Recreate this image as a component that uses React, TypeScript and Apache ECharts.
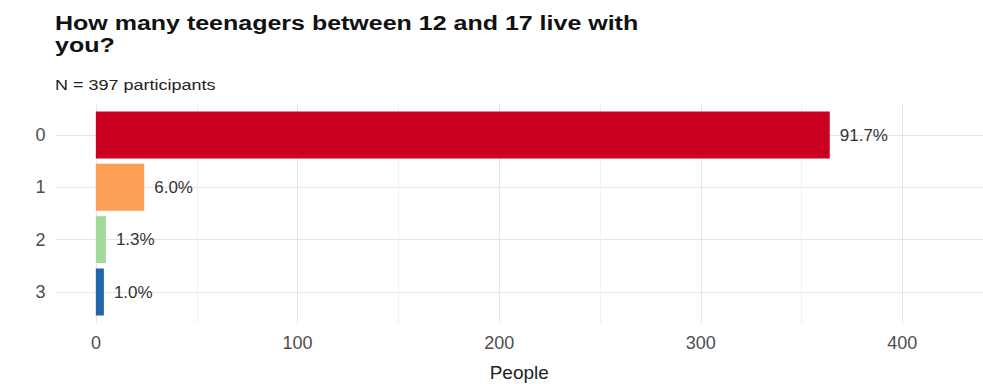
import React, { useEffect, useRef } from "react";
import * as echarts from "echarts";

const categories = ["0", "1", "2", "3"];
const counts = [364, 24, 5, 4];
const pctLabels = ["91.7%", "6.0%", "1.3%", "1.0%"];
const barColors = ["#CA0020", "#FA9F55", "#A1D99B", "#2166AC"];
const xTicks = [0, 100, 200, 300, 400];
const titleLines = ["How many teenagers between 12 and 17 live with", "you?"];
const subtitle = "N = 397 participants";

const FONT = "Liberation Sans, Arial, Helvetica, sans-serif";

export default function App() {
  const ref = useRef<HTMLDivElement>(null);
  useEffect(() => {
    if (!ref.current) return;
    const chart = echarts.init(ref.current, undefined, { renderer: "svg" });
    const option: any = {
      animation: false,
      backgroundColor: "#ffffff",
      textStyle: { fontFamily: FONT },
      graphic: [
        {
          type: "text",
          x: 55,
          y: 23,
          scaleX: 1.25,
          style: {
            text: titleLines[0],
            font: "bold 20px " + FONT,
            fill: "#111",
            verticalAlign: "middle",
          },
        },
        {
          type: "text",
          x: 55,
          y: 45,
          scaleX: 1.25,
          style: {
            text: titleLines[1],
            font: "bold 20px " + FONT,
            fill: "#111",
            verticalAlign: "middle",
          },
        },
        {
          type: "text",
          x: 55,
          y: 85.5,
          scaleX: 1.2,
          style: {
            text: subtitle,
            font: "15px " + FONT,
            fill: "#222",
            verticalAlign: "middle",
          },
        },
      ],
      grid: [
        { left: 55.5, width: 928, top: 135, height: 157 },
        { left: 96, width: 887.7, top: 103.6, height: 219.8 },
      ],
      xAxis: [
        {
          gridIndex: 0,
          type: "value",
          min: -20,
          max: 440,
          axisLine: { show: false },
          axisTick: { show: false },
          axisLabel: { show: false },
          splitLine: { show: false },
          name: "People",
          nameLocation: "middle",
          nameGap: 71,
          nameTextStyle: { fontFamily: FONT, fontSize: 19, color: "#222" },
        },
        {
          gridIndex: 1,
          type: "value",
          min: 0,
          max: 440,
          interval: 100,
          axisLine: { show: false },
          axisTick: { show: false },
          axisLabel: {
            show: true,
            margin: 11,
            fontFamily: FONT,
            fontSize: 18,
            color: "#4d4d4d",
            customValues: xTicks,
          },
          splitLine: { show: true, lineStyle: { color: "#e6e6e6", width: 1 } },
          minorTick: { show: false, splitNumber: 2 },
          minorSplitLine: { show: true, lineStyle: { color: "#f1f1f1", width: 1 } },
        },
      ],
      yAxis: [
        {
          gridIndex: 0,
          type: "category",
          data: categories,
          inverse: true,
          boundaryGap: false,
          axisLine: { show: false },
          axisTick: { show: false },
          axisLabel: {
            margin: 10,
            fontFamily: FONT,
            fontSize: 18,
            color: "#4d4d4d",
          },
          splitLine: { show: true, lineStyle: { color: "#e6e6e6", width: 1 } },
        },
        {
          gridIndex: 1,
          type: "value",
          min: 0,
          max: 1,
          show: false,
          splitLine: { show: false },
        },
      ],
      series: [
        {
          type: "bar",
          xAxisIndex: 0,
          yAxisIndex: 0,
          clip: false,
          barWidth: 47,
          data: counts.map((v, i) => ({
            value: v,
            itemStyle: { color: barColors[i] },
            label: { formatter: pctLabels[i] },
          })),
          label: {
            show: true,
            position: "right",
            distance: 10,
            fontFamily: FONT,
            fontSize: 17,
            color: "#333",
          },
          z: 3,
        },
      ],
    };
    chart.setOption(option);
    return () => chart.dispose();
  }, []);
  return (
    <div
      ref={ref}
      style={{ position: "absolute", left: 0, top: 0, width: 983, height: 384 }}
    />
  );
}
